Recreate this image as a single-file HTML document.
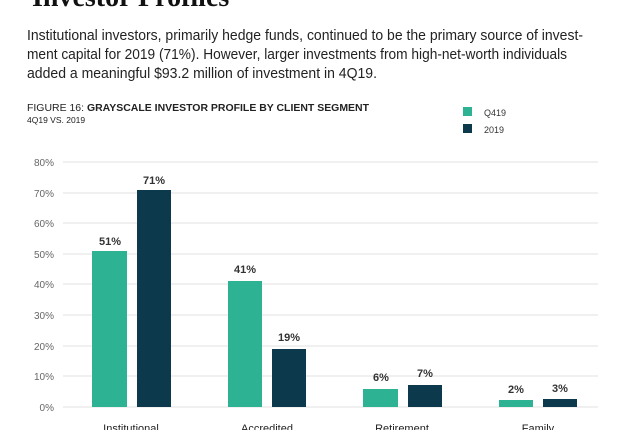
<!DOCTYPE html>
<html><head><meta charset="utf-8"><style>
body{margin:0;width:640px;height:430px;overflow:hidden;background:#fff;font-family:"Liberation Sans",sans-serif}
</style></head><body>
<svg width="640" height="430" viewBox="0 0 640 430" xmlns="http://www.w3.org/2000/svg" font-family="Liberation Sans, sans-serif">
<text x="32" y="6" font-family="Liberation Serif, serif" font-weight="bold" font-size="28" fill="#111">Investor Profiles</text>
<g font-size="14.5" fill="#222">
<text x="27" y="40" textLength="556" lengthAdjust="spacingAndGlyphs">Institutional investors, primarily hedge funds, continued to be the primary source of invest-</text>
<text x="27" y="59" textLength="540" lengthAdjust="spacingAndGlyphs">ment capital for 2019 (71%). However, larger investments from high-net-worth individuals</text>
<text x="27" y="78" textLength="350" lengthAdjust="spacingAndGlyphs">added a meaningful $93.2 million of investment in 4Q19.</text>
</g>
<text x="27" y="111" font-size="10" fill="#222" textLength="342" lengthAdjust="spacingAndGlyphs">FIGURE 16: <tspan font-weight="bold">GRAYSCALE INVESTOR PROFILE BY CLIENT SEGMENT</tspan></text>
<text x="27" y="123" font-size="8.5" fill="#222">4Q19 VS. 2019</text>
<rect x="463" y="107" width="9" height="9" fill="#2db394"/>
<text x="484" y="116" font-size="9" fill="#333">Q419</text>
<rect x="463" y="124" width="9" height="9" fill="#0c3a4c"/>
<text x="484" y="133" font-size="9" fill="#333">2019</text>
<g stroke="#e2e2e2" stroke-width="1">
<line x1="63" x2="598" y1="162" y2="162"/><line x1="63" x2="598" y1="193" y2="193"/>
<line x1="63" x2="598" y1="223" y2="223"/><line x1="63" x2="598" y1="254" y2="254"/>
<line x1="63" x2="598" y1="284" y2="284"/><line x1="63" x2="598" y1="315" y2="315"/>
<line x1="63" x2="598" y1="346" y2="346"/><line x1="63" x2="598" y1="376" y2="376"/>
<line x1="63" x2="598" y1="407" y2="407"/>
</g>
<g font-size="10" fill="#666" text-anchor="end">
<text x="54" y="166">80%</text><text x="54" y="197">70%</text><text x="54" y="227">60%</text>
<text x="54" y="258">50%</text><text x="54" y="288">40%</text><text x="54" y="319">30%</text>
<text x="54" y="350">20%</text><text x="54" y="380">10%</text><text x="54" y="411">0%</text>
</g>
<g fill="#2db394">
<rect x="92" y="251" width="35" height="156"/><rect x="228" y="281" width="34" height="126"/>
<rect x="363" y="389" width="35" height="18"/><rect x="499" y="400" width="34" height="7"/>
</g>
<g fill="#0c3a4c">
<rect x="137" y="190" width="34" height="217"/><rect x="272" y="349" width="34" height="58"/>
<rect x="408" y="385" width="34" height="22"/><rect x="543" y="399" width="34" height="8"/>
</g>
<g font-size="11" font-weight="bold" fill="#333" text-anchor="middle">
<text x="110" y="245">51%</text><text x="154" y="184">71%</text>
<text x="245" y="273">41%</text><text x="289" y="341">19%</text>
<text x="381" y="381">6%</text><text x="425" y="377">7%</text>
<text x="516" y="393">2%</text><text x="560" y="392">3%</text>
</g>
<g font-size="11" fill="#222" text-anchor="middle">
<text x="131" y="432">Institutional</text><text x="267" y="432">Accredited</text>
<text x="402" y="432">Retirement</text><text x="538" y="432">Family</text>
</g>
</svg>
</body></html>
